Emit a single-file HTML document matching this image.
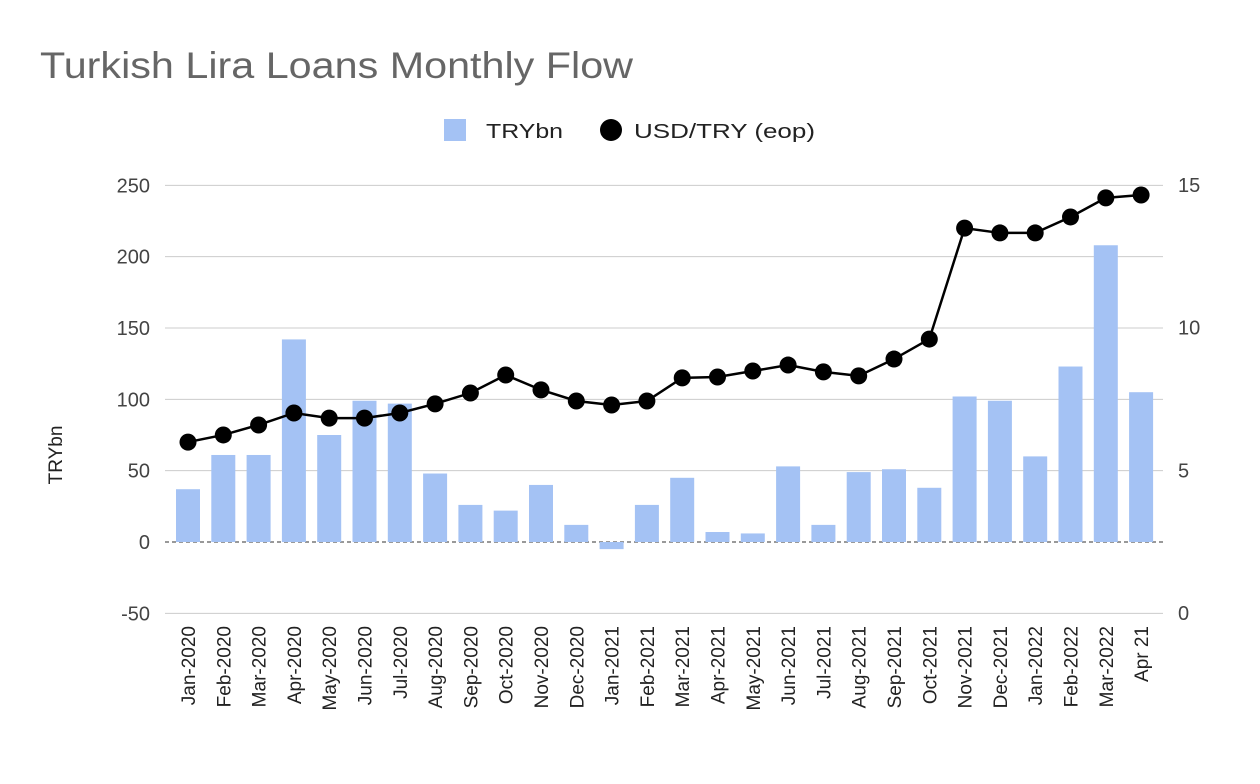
<!DOCTYPE html>
<html><head><meta charset="utf-8"><style>
body{margin:0;background:#fff;font-family:"Liberation Sans",Arial,sans-serif}
svg text{font-family:"Liberation Sans",Arial,sans-serif}
</style></head><body>
<svg id="chart" width="1260" height="779" xmlns="http://www.w3.org/2000/svg">
<rect width="1260" height="779" fill="#fff"/>
<text x="40" y="78" font-size="37" fill="#666" textLength="593" lengthAdjust="spacingAndGlyphs">Turkish Lira Loans Monthly Flow</text>
<g>
<rect x="444" y="119" width="22" height="22" fill="#a4c2f4"/>
<text x="486" y="138" font-size="20" fill="#222" textLength="77" lengthAdjust="spacingAndGlyphs">TRYbn</text>
<circle cx="611" cy="130" r="11" fill="#000"/>
<text x="634" y="138" font-size="20" fill="#222" textLength="181" lengthAdjust="spacingAndGlyphs">USD/TRY (eop)</text>
</g>
<text transform="translate(62,455) rotate(-90)" text-anchor="middle" font-size="19" fill="#222">TRYbn</text>
<g id="grid"></g><g id="bars"></g><g id="line"></g><g id="labels"></g>
</svg>
<script>
const categories=["Jan-2020","Feb-2020","Mar-2020","Apr-2020","May-2020","Jun-2020","Jul-2020","Aug-2020","Sep-2020","Oct-2020","Nov-2020","Dec-2020","Jan-2021","Feb-2021","Mar-2021","Apr-2021","May-2021","Jun-2021","Jul-2021","Aug-2021","Sep-2021","Oct-2021","Nov-2021","Dec-2021","Jan-2022","Feb-2022","Mar-2022","Apr 21"];
const loanFlow=[37,61,61,142,75,99,97,48,26,22,40,12,-5,26,45,7,6,53,12,49,51,38,102,99,60,123,208,105];
const usdTry=[5.99,6.24,6.59,7.01,6.83,6.83,7.01,7.33,7.71,8.34,7.82,7.43,7.29,7.43,8.24,8.27,8.48,8.69,8.45,8.31,8.9,9.6,13.49,13.32,13.32,13.88,14.55,14.65];
const leftTicks=[250,200,150,100,50,0,-50];
const rightTicks=[15,10,5,0];
const NS="http://www.w3.org/2000/svg";
const yL=v=>542-(v*428/300);
const yR=v=>613-v*428/15;
const xC=i=>188+i*35.3;
function mk(t,a,p){const e=document.createElementNS(NS,t);for(const k in a)e.setAttribute(k,a[k]);document.getElementById(p).appendChild(e);return e;}
leftTicks.forEach(v=>{
 const l=mk('line',{x1:165,x2:1163,y1:yL(v),y2:yL(v),stroke:v===0?'#333':'#ccc','stroke-width':1,'stroke-dasharray':v===0?'4,3':'none'},'grid');
 
 
 const t=mk('text',{x:150,y:yL(v)+7,'text-anchor':'end','font-size':20,fill:'#444'},'labels');
 t.textContent=v;
 
 
});
rightTicks.forEach(v=>{
 const t=mk('text',{x:1178,y:yR(v)+7,'font-size':20,fill:'#444'},'labels');
 t.textContent=v;
 
 
});
loanFlow.forEach((v,i)=>{
 const y0=yL(0),y1=yL(v);
 const r=mk('rect',{x:xC(i)-12,y:Math.min(y0,y1),width:24,height:Math.abs(y1-y0),fill:'#a4c2f4'},'bars');
 
 
});
const pts=usdTry.map((v,i)=>xC(i)+','+yR(v)).join(' ');
const pl=mk('polyline',{points:pts,fill:'none',stroke:'#000','stroke-width':2.5},'line');


usdTry.forEach((v,i)=>{
 const c=mk('circle',{cx:xC(i),cy:yR(v),r:8.5,fill:'#000'},'line');
 
 
});
categories.forEach((c,i)=>{
 const t=mk('text',{transform:`translate(${xC(i)+7},626) rotate(-90)`,'text-anchor':'end','font-size':19,fill:'#222'},'labels');
 t.textContent=c;
 
 
});
</script>
</body></html>
